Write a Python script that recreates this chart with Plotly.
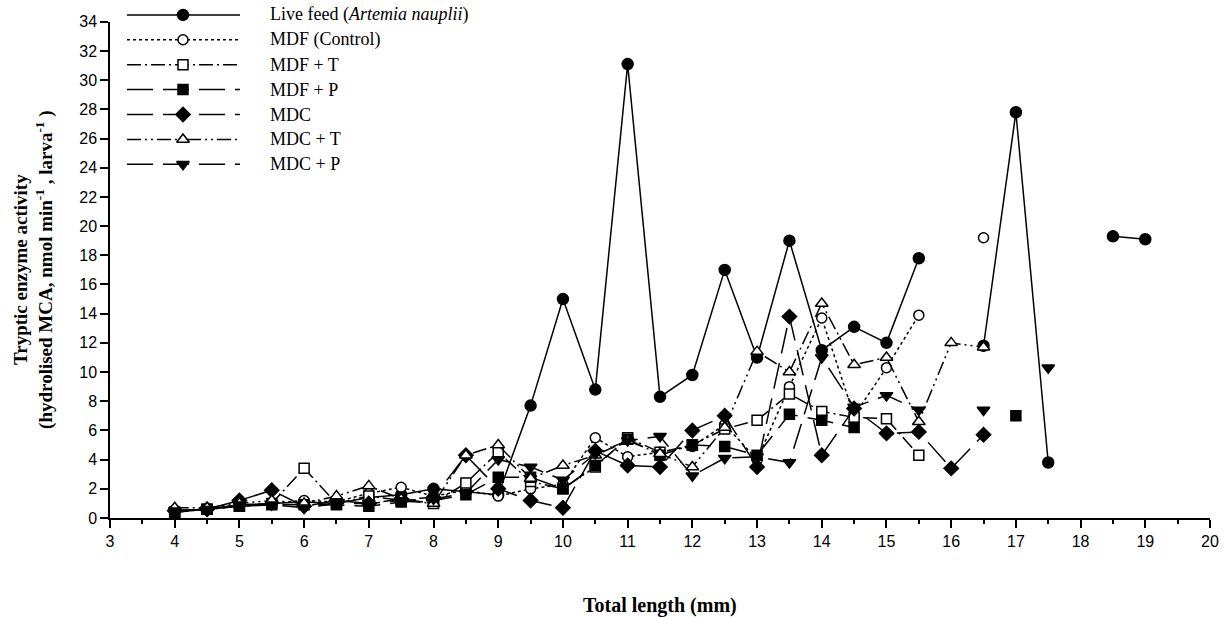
import plotly.graph_objects as go

# ---------------- data ----------------
total_length = [4.0, 4.5, 5.0, 5.5, 6.0, 6.5, 7.0, 7.5, 8.0, 8.5, 9.0, 9.5, 10.0, 10.5, 11.0, 11.5,
                12.0, 12.5, 13.0, 13.5, 14.0, 14.5, 15.0, 15.5, 16.0, 16.5, 17.0, 17.5, 18.0, 18.5, 19.0]

live_feed = [0.5, 0.6, 0.9, 1.0, 1.1, 1.0, 1.4, 1.6, 2.0, 1.8, 1.6, 7.7, 15.0, 8.8, 31.1, 8.3,
             9.8, 17.0, 11.0, 19.0, 11.5, 13.1, 12.0, 17.8, None, 11.8, 27.8, 3.8, None, 19.3, 19.1]
mdf_control = [0.5, 0.6, 0.8, 1.0, 1.2, 1.1, 1.7, 2.1, 1.5, 1.9, 1.5, 2.0, 2.3, 5.5, 4.2, 4.5,
               4.9, 6.4, 4.0, 9.0, 13.7, 7.0, 10.3, 13.9, None, 19.2, None, None, None, None, None]
mdf_t = [0.4, 0.6, 0.8, 1.0, 3.4, 1.0, 1.5, 1.2, 1.0, 2.4, 4.5, 2.5, 2.0, 3.5, 5.5, 4.5,
         5.0, 6.1, 6.7, 8.5, 7.3, 6.9, 6.8, 4.3, None, None, None, None, None, None, None]
mdf_p = [0.4, 0.6, 0.8, 0.9, 0.9, 0.9, 0.8, 1.1, 1.2, 1.6, 2.8, 2.8, 2.0, 3.6, 5.4, 4.3,
         5.0, 4.9, 4.3, 7.1, 6.7, 6.2, None, None, None, None, 7.0, None, None, None, None]
mdc = [0.5, 0.6, 1.2, 1.9, 0.8, 1.2, 1.0, 1.3, 1.4, 4.3, 2.0, 1.2, 0.7, 4.6, 3.6, 3.5,
       6.0, 7.0, 3.5, 13.8, 4.3, 7.5, 5.8, 5.9, 3.4, 5.7, None, None, None, None, None]
mdc_t = [0.7, 0.7, 1.0, 1.2, 1.0, 1.5, 2.2, 1.3, 1.0, 4.3, 5.0, 2.7, 3.6, 4.3, 5.3, 4.4,
         3.5, 6.2, 11.4, 10.0, 14.7, 10.5, 11.0, 6.6, 12.0, 11.7, None, None, None, None, None]
mdc_p = [0.5, 0.6, 0.9, 0.9, 0.7, 1.0, 1.0, 1.2, 1.3, 1.7, 4.0, 3.5, 2.6, 4.4, 5.3, 5.6,
         2.9, 4.1, 4.2, 3.8, 11.0, 7.6, 8.4, 7.4, None, 7.4, None, 10.3, None, None, None]

series_names = ["Live feed (<i>Artemia nauplii</i>)", "MDF (Control)", "MDF + T", "MDF + P",
                "MDC", "MDC + T", "MDC + P"]
series_values = [live_feed, mdf_control, mdf_t, mdf_p, mdc, mdc_t, mdc_p]

# ---------------- styles ----------------
styles = [
    dict(dash="solid", symbol="circle", fill="black", size=11),
    dict(dash="dot", symbol="circle", fill="white", size=10),
    dict(dash="14px,4px,2px,4px", symbol="square", fill="white", size=10),
    dict(dash="26px,10px", symbol="square", fill="black", size=10),
    dict(dash="26px,10px", symbol="diamond", fill="black", size=11),
    dict(dash="14px,4px,2px,4px,2px,4px", symbol="triangle-up", fill="white", size=11),
    dict(dash="26px,10px", symbol="triangle-down", fill="black", size=11),
]

W, H = 1224, 617
PLOT_L, PLOT_R, PLOT_B = 110, 14, 99
PLOT_TOP = 14                      # y pixel of the 34 tick
PW = W - PLOT_L - PLOT_R
AREA_H = H - PLOT_B                # legend area: page top to x-axis
Y_DOMAIN_TOP = 1 - PLOT_TOP / AREA_H

fig = go.Figure()

for name, vals, st in zip(series_names, series_values, styles):
    fig.add_trace(go.Scatter(
        x=total_length, y=vals, mode="lines+markers", name=name, showlegend=False,
        connectgaps=False,
        line=dict(color="black", width=1.5, dash=st["dash"]),
        marker=dict(symbol=st["symbol"], size=st["size"], color=st["fill"],
                    line=dict(color="black", width=1.5)),
    ))

# ---------------- custom legend (pixel offsets: x from plot left, y from page top) ----------------
LEG_X0, LEG_X1, LEG_XM, LEG_TX = 17, 130, 73, 158
LEG_Y0, LEG_DY = 7, 25.3
for i, (name, st) in enumerate(zip(series_names, styles)):
    yy = LEG_Y0 + i * LEG_DY
    fig.add_trace(go.Scatter(
        x=[LEG_X0, LEG_X1], y=[yy, yy], mode="lines", xaxis="x2", yaxis="y2",
        showlegend=False, hoverinfo="skip",
        line=dict(color="black", width=1.5, dash=st["dash"])))
    fig.add_trace(go.Scatter(
        x=[LEG_XM], y=[yy], mode="markers", xaxis="x2", yaxis="y2",
        showlegend=False, hoverinfo="skip",
        marker=dict(symbol=st["symbol"], size=st["size"], color=st["fill"],
                    line=dict(color="black", width=1.5))))
    fig.add_annotation(x=LEG_TX, y=yy, xref="x2", yref="y2", text=name,
                       showarrow=False, xanchor="left", yanchor="middle",
                       font=dict(family="Liberation Serif", size=18, color="black"))

tick_font = dict(family="Liberation Sans", size=16, color="black")

fig.update_layout(
    width=W, height=H,
    margin=dict(l=PLOT_L, r=PLOT_R, t=0, b=PLOT_B, pad=0),
    paper_bgcolor="white", plot_bgcolor="rgba(0,0,0,0)",
    showlegend=False,
    xaxis=dict(range=[3, 20], dtick=1, tick0=3, showgrid=False, zeroline=False,
               domain=[0, 1], anchor="y",
               showline=True, linecolor="black", linewidth=1.5,
               ticks="outside", ticklen=8, tickwidth=1.5, tickcolor="black",
               tickfont=tick_font,
               minor=dict(dtick=0.5, ticks="outside", ticklen=4, tickwidth=1.5, tickcolor="black")),
    yaxis=dict(range=[0, 34], dtick=2, showgrid=False, zeroline=False,
               domain=[0, Y_DOMAIN_TOP], anchor="x",
               showline=True, linecolor="black", linewidth=1.5,
               ticks="outside", ticklen=8, tickwidth=1.5, tickcolor="black",
               tickfont=tick_font),
    xaxis2=dict(domain=[0, 1], range=[0, PW], anchor="y2", visible=False),
    yaxis2=dict(domain=[0, 1], range=[AREA_H, 0], anchor="x2", visible=False),
)

fig.add_annotation(
    x=0.5, y=0, xref="paper", yref="paper", yshift=-87,
    text="<b>Total length (mm)</b>", showarrow=False, xanchor="center", yanchor="middle",
    font=dict(family="Liberation Serif", size=20, color="black"))

fig.add_annotation(
    x=0, y=0.5 * Y_DOMAIN_TOP, xref="paper", yref="paper", xshift=-76, textangle=-90,
    text="<b>Tryptic enzyme activity<br>(hydrolised MCA, nmol min<sup>-1</sup> , larva<sup>-1</sup> )</b>",
    showarrow=False, xanchor="center", yanchor="middle",
    font=dict(family="Liberation Serif", size=19, color="black"))

fig.write_html("out.html")
